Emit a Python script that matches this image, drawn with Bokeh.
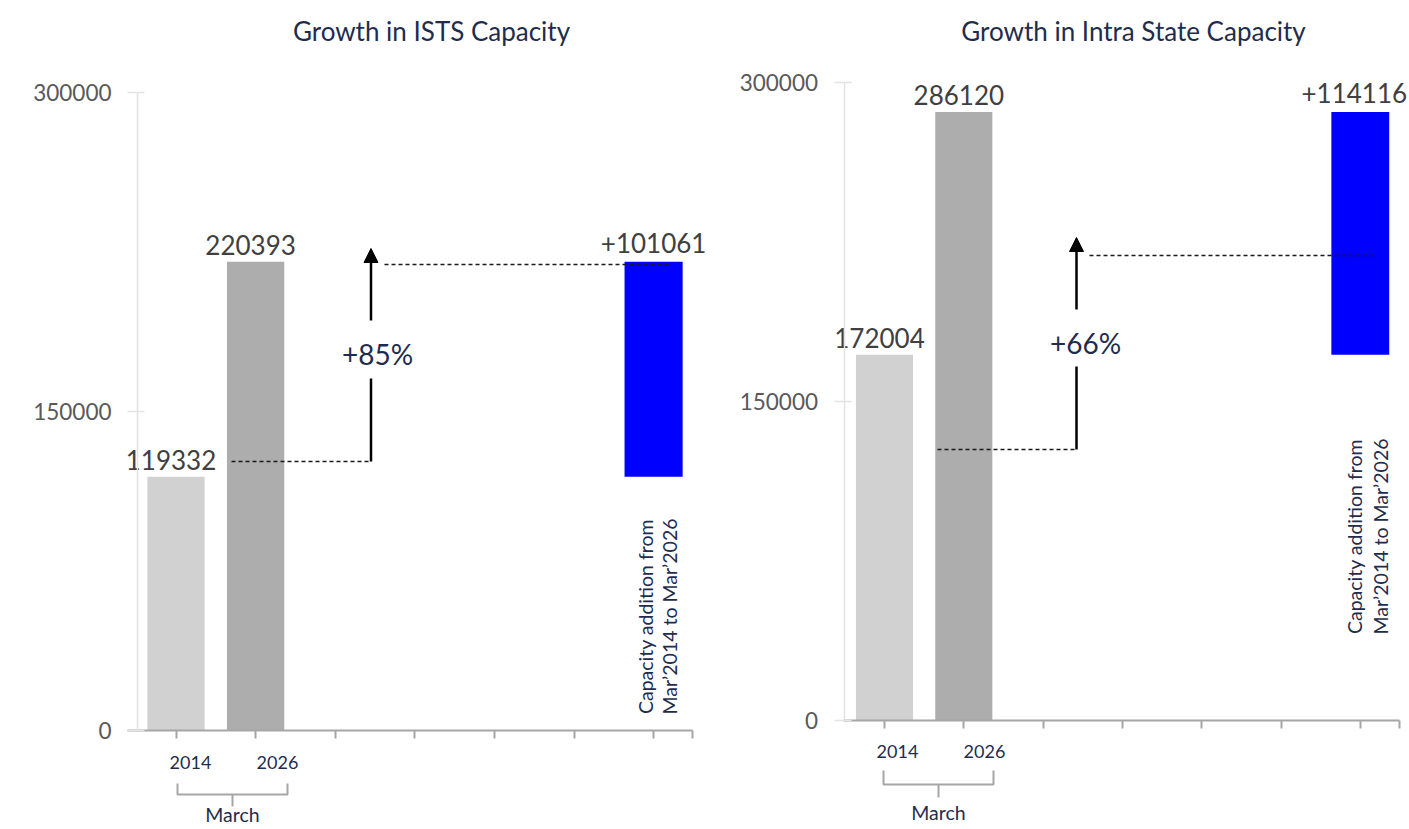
import math
from bokeh.plotting import figure
from bokeh.layouts import row
from bokeh.models import (Range1d, LinearAxis, FixedTicker, NumeralTickFormatter,
                          CustomJSTickFormatter, Arrow, NormalHead)
from bokeh.core.properties import value
from bokeh.embed import file_html
from bokeh.resources import INLINE

# ---------------- data ----------------
years = ["2014", "2026"]
period_label = "March"
ists_capacity = [119332, 220393]
intra_capacity = [172004, 286120]
ists_growth = "+85%"
intra_growth = "+66%"
chart_titles = ["Growth in ISTS Capacity", "Growth in Intra State Capacity"]
addition_note = ["Capacity addition from", "Mar\u20192014 to Mar\u20192026"]
y_ticks = [0, 150000, 300000]
bar_positions = [0, 1]
addition_position = 6
bar_colors = ["#d1d1d1", "#adadad"]
addition_color = "#0000ff"

# ---------------- style / layout ----------------
FONT = "Lato"
NAVY = "#1f2d4d"
VALUE_GREY = "#404040"
AXIS_GREY = "#a6a6a6"
H = 829
TOP = 0

panels = [
    dict(title=chart_titles[0], values=ists_capacity, growth=ists_growth,
         page_x0=0, width=720, tick0=175.5, step=79.6, base_y=730.0, ppu=319.0 / 150000,
         yaxis_x=137, xaxis_start=127, xaxis_end=692,
         title_xy=(431, 30), year_xy=[(190, 762), (277, 762)],
         bracket=(177, 287, 783, 794, 806), march_xy=(232, 814),
         guide1=(231, 370, 461), arrow=(370.5, 461, 378, 320, 248),
         guide2=(384, 670, 264), growth_xy=(377, 353),
         note_x=(645, 669), note_y=616, add_label_dx=0),
    dict(title=chart_titles[1], values=intra_capacity, growth=intra_growth,
         page_x0=720, width=689, tick0=884.0, step=79.3, base_y=720.0, ppu=319.0 / 150000,
         yaxis_x=843.5, xaxis_start=843, xaxis_end=1399,
         title_xy=(1133, 30), year_xy=[(897, 751), (984, 751)],
         bracket=(883, 993, 770, 784, 797), march_xy=(938, 812),
         guide1=(937, 1076, 449), arrow=(1076, 449, 366, 309, 237),
         guide2=(1089, 1375, 255), growth_xy=(1085, 342),
         note_x=(1354, 1380), note_y=536, add_label_dx=-6),
]


def build(cfg):
    X = lambda px: (px - cfg["tick0"]) / cfg["step"]
    Y = lambda py: (cfg["base_y"] - py) / cfg["ppu"]
    x0, w = cfg["page_x0"], cfg["width"]

    p = figure(width=w, height=H,
               x_range=Range1d(X(x0), X(x0 + w)),
               y_range=Range1d(Y(TOP + H), Y(TOP)),
               output_backend="svg", toolbar_location=None,
               x_axis_location=None, y_axis_location=None,
               min_border=0, min_border_left=0, min_border_right=0,
               min_border_top=0, min_border_bottom=0)
    p.outline_line_color = None
    p.background_fill_color = "white"
    p.border_fill_color = "white"
    p.grid.visible = False

    vals = cfg["values"]

    # bars
    p.vbar(x=bar_positions, top=vals, bottom=0, width=0.72,
           fill_color=bar_colors, line_color=None)
    p.vbar(x=[addition_position], bottom=[vals[0]], top=[vals[1]], width=0.73,
           fill_color=addition_color, line_color=None)

    # axes
    yaxis = LinearAxis(fixed_location=X(cfg["yaxis_x"]),
                       ticker=FixedTicker(ticks=y_ticks),
                       formatter=NumeralTickFormatter(format="0"),
                       bounds=(y_ticks[0], y_ticks[-1]),
                       axis_line_color="#e3e3e3", axis_line_width=1.5,
                       major_tick_line_color="#e3e3e3", major_tick_line_width=1.5,
                       major_tick_out=10, major_tick_in=7,
                       minor_tick_out=0, minor_tick_in=0,
                       major_label_standoff=16,
                       major_label_text_font=FONT,
                       major_label_text_font_size="22.5px",
                       major_label_text_color="#595959")
    p.add_layout(yaxis, "left")

    xticks = list(range(addition_position + 1)) + [X(cfg["xaxis_end"])]
    xaxis = LinearAxis(fixed_location=0,
                       ticker=FixedTicker(ticks=xticks),
                       formatter=CustomJSTickFormatter(code="return ''"),
                       bounds=(X(cfg["xaxis_start"]), X(cfg["xaxis_end"])),
                       axis_line_color=AXIS_GREY, axis_line_width=2,
                       major_tick_line_color=AXIS_GREY, major_tick_line_width=2,
                       major_tick_out=8, major_tick_in=0,
                       minor_tick_out=0, minor_tick_in=0)
    p.add_layout(xaxis, "below")

    # value labels
    p.text(x=bar_positions, y=vals, text=[str(v) for v in vals],
           x_offset=-5, y_offset=-17, text_align="center", text_baseline="middle",
           text_font=value(FONT), text_font_size="26px", text_color=VALUE_GREY)
    p.text(x=[addition_position], y=[vals[1]], text=[f"+{vals[1] - vals[0]}"],
           x_offset=cfg["add_label_dx"], y_offset=-19, text_align="center",
           text_baseline="middle",
           text_font=value(FONT), text_font_size="26px", text_color=VALUE_GREY)

    # guide lines (dashed) and growth arrow
    gx0, gx1, gy = cfg["guide1"]
    p.segment(x0=[X(gx0)], y0=[Y(gy)], x1=[X(gx1)], y1=[Y(gy)],
              line_color="#1a1a1a", line_width=1.3, line_dash="4 3")
    gx0, gx1, gy = cfg["guide2"]
    p.segment(x0=[X(gx0)], y0=[Y(gy)], x1=[X(gx1)], y1=[Y(gy)],
              line_color="#1a1a1a", line_width=1.3, line_dash="4 3")

    ax, ay0, ay1, ay2, atip = cfg["arrow"]
    p.segment(x0=[X(ax)], y0=[Y(ay0)], x1=[X(ax)], y1=[Y(ay1)],
              line_color="black", line_width=2.5)
    p.add_layout(Arrow(end=NormalHead(size=14, fill_color="black", line_color="black"),
                       x_start=X(ax), y_start=Y(ay2), x_end=X(ax), y_end=Y(atip),
                       line_color="black", line_width=2.5))

    gxp, gyp = cfg["growth_xy"]
    p.text(x=[X(gxp)], y=[Y(gyp)], text=[cfg["growth"]],
           text_align="center", text_baseline="middle",
           text_font=value(FONT), text_font_size="28px", text_color=NAVY)

    # title
    tx, ty = cfg["title_xy"]
    p.text(x=[X(tx)], y=[Y(ty)], text=[cfg["title"]],
           text_align="center", text_baseline="middle",
           text_font=value(FONT), text_font_size="26px", text_color=NAVY)

    # category labels and group bracket
    p.text(x=[X(a) for a, _ in cfg["year_xy"]], y=[Y(b) for _, b in cfg["year_xy"]],
           text=years, text_align="center", text_baseline="middle",
           text_font=value(FONT), text_font_size="18px", text_color=NAVY)
    bl, br, bt, bb, bc = cfg["bracket"]
    bm = (bl + br) / 2
    p.multi_line(xs=[[X(bl), X(bl), X(br), X(br)], [X(bm), X(bm)]],
                 ys=[[Y(bt), Y(bb), Y(bb), Y(bt)], [Y(bb), Y(bc)]],
                 line_color=AXIS_GREY, line_width=2)
    mx, my = cfg["march_xy"]
    p.text(x=[X(mx)], y=[Y(my)], text=[period_label], text_align="center",
           text_baseline="middle", text_font=value(FONT), text_font_size="19.5px",
           text_color=NAVY)

    # rotated note
    nx1, nx2 = cfg["note_x"]
    p.text(x=[X(nx1), X(nx2)], y=[Y(cfg["note_y"])] * 2, text=addition_note,
           angle=math.pi / 2, text_align="center", text_baseline="middle",
           text_font=value(FONT), text_font_size="19.5px", text_color=NAVY)
    return p


layout = row(build(panels[0]), build(panels[1]))
open("out.html", "w").write(file_html(layout, INLINE))
